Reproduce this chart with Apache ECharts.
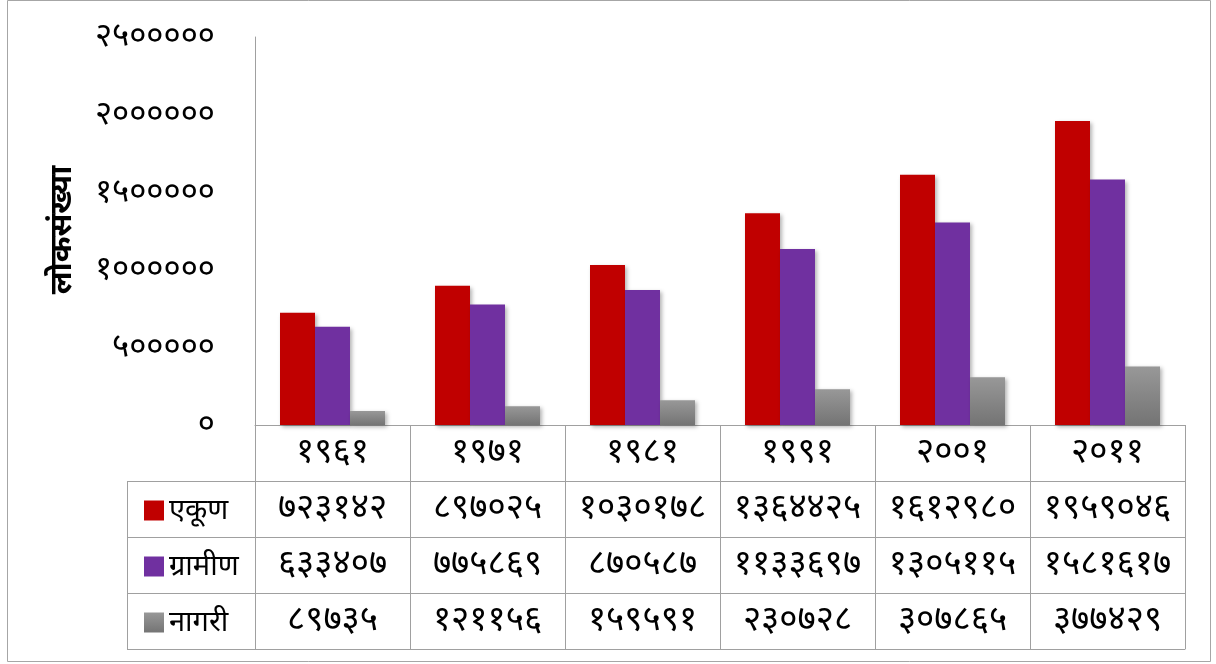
<!DOCTYPE html>
<html>
<head>
<meta charset="utf-8">
<script src="https://cdn.jsdelivr.net/npm/echarts@6/dist/echarts.min.js"></script>
<style>html,body{margin:0;padding:0;background:#fff}#c{width:1216px;height:664px}</style>
</head>
<body>
<div id="c"></div>
<script>
var years = [1961, 1971, 1981, 1991, 2001, 2011];
var seriesNames = ['एकूण', 'ग्रामीण', 'नागरी'];
var total = [723142, 897025, 1030178, 1364425, 1612980, 1959046];
var rural = [633407, 775869, 870587, 1133697, 1305115, 1581617];
var urban = [89735, 121156, 159591, 230728, 307865, 377429];
var yMax = 2500000;
var yInterval = 500000;

var DEV = '०१२३४५६७८९';
function dev(n) { return String(n).replace(/[0-9]/g, function (d) { return DEV[+d]; }); }

var FONT = "'Noto Sans', 'Noto Sans Devanagari', 'Lohit Devanagari', 'Noto Sans CJK SC', sans-serif";
var GRID_L = 255, GRID_R = 31, GRID_T = 37, GRID_B = 239, ROW = 56, LEG_L = 127;
var W = 1216, H = 664;
var NUM_SIZE = 35;
var lineColor = '#A0A0A0';
var cats = years.map(dev);
var rows = [total, rural, urban];

var grayGrad = new echarts.graphic.LinearGradient(0, 0, 0, 1, [
  { offset: 0, color: '#989898' }, { offset: 1, color: '#747474' }]);
var colors = ['#C00000', '#7030A0', grayGrad];

var xAxes = [{
  type: 'category', data: cats, gridIndex: 0, position: 'bottom',
  axisLine: { lineStyle: { color: lineColor, width: 1 } },
  axisTick: { show: true, length: ROW * 4, interval: 0, lineStyle: { color: lineColor } },
  axisLabel: { fontFamily: FONT, fontSize: NUM_SIZE, color: '#000', margin: 27, verticalAlign: 'middle', interval: 0 }
}];
rows.forEach(function (arr, r) {
  xAxes.push({
    type: 'category', data: cats, gridIndex: 0, position: 'bottom', offset: ROW * (r + 1),
    axisLine: { show: true, lineStyle: { color: lineColor, width: 1 } },
    axisTick: { show: false },
    axisLabel: {
      fontFamily: FONT, fontSize: NUM_SIZE, color: '#000', margin: 27, verticalAlign: 'middle', interval: 0,
      formatter: function (v, i) { return dev(arr[i]); }
    }
  });
});
xAxes.push({
  type: 'category', data: cats, gridIndex: 0, position: 'bottom', offset: ROW * 4,
  axisLine: { show: true, lineStyle: { color: lineColor, width: 1 } },
  axisTick: { show: false }, axisLabel: { show: false }
});

var bottomY = H - GRID_B;
var graphics = [
  { type: 'rect', shape: { x: 7.5, y: 0.5, width: 1203, height: 661 }, style: { fill: null, stroke: '#A6A6A6', lineWidth: 1 }, silent: true },
  { type: 'line', shape: { x1: LEG_L + 0.5, y1: bottomY + ROW, x2: LEG_L + 0.5, y2: bottomY + ROW * 4 }, style: { stroke: lineColor, lineWidth: 1 } }
];
for (var k = 1; k <= 4; k++) {
  graphics.push({ type: 'line', shape: { x1: LEG_L, y1: bottomY + ROW * k + 0.5, x2: GRID_L, y2: bottomY + ROW * k + 0.5 }, style: { stroke: lineColor, lineWidth: 1 } });
}
graphics.push({
  type: 'text', x: 62, y: 230, rotation: Math.PI / 2,
  style: { text: 'लोकसंख्या', font: 'bold 31px ' + FONT, fill: '#000', textAlign: 'center', textVerticalAlign: 'middle' }
});

var legends = seriesNames.map(function (name, i) {
  return {
    orient: 'vertical', left: 139, top: bottomY + ROW * (i + 1) + ROW / 2 - 10 - 8,
    itemWidth: 20, itemHeight: 20,
    icon: 'rect', data: [name],
    textStyle: { fontFamily: FONT, fontSize: 29, color: '#000', lineHeight: 20, height: 20, verticalAlign: 'middle', padding: [0, 0, 8, 0] }
  };
});

var chart = echarts.init(document.getElementById('c'), null, { renderer: 'canvas' });
chart.setOption({
  animation: false,
  backgroundColor: '#fff',
  grid: { left: GRID_L, right: GRID_R, top: GRID_T, bottom: GRID_B, containLabel: false },
  legend: legends,
  xAxis: xAxes,
  yAxis: {
    type: 'value', min: 0, max: yMax, interval: yInterval,
    axisLine: { show: true, lineStyle: { color: lineColor } },
    axisTick: { show: false },
    splitLine: { show: false },
    axisLabel: { fontFamily: FONT, fontSize: 33, color: '#000', margin: 40, padding: [0, 0, 16, 0], formatter: function (v) { return dev(v); } }
  },
  graphic: graphics,
  series: rows.map(function (arr, i) {
    return {
      name: seriesNames[i], type: 'bar', data: arr, barWidth: 35, barGap: '0%',
      itemStyle: { color: colors[i], shadowBlur: 4, shadowOffsetX: 2, shadowOffsetY: 2, shadowColor: 'rgba(0,0,0,0.3)' }
    };
  })
});
</script>
</body>
</html>
